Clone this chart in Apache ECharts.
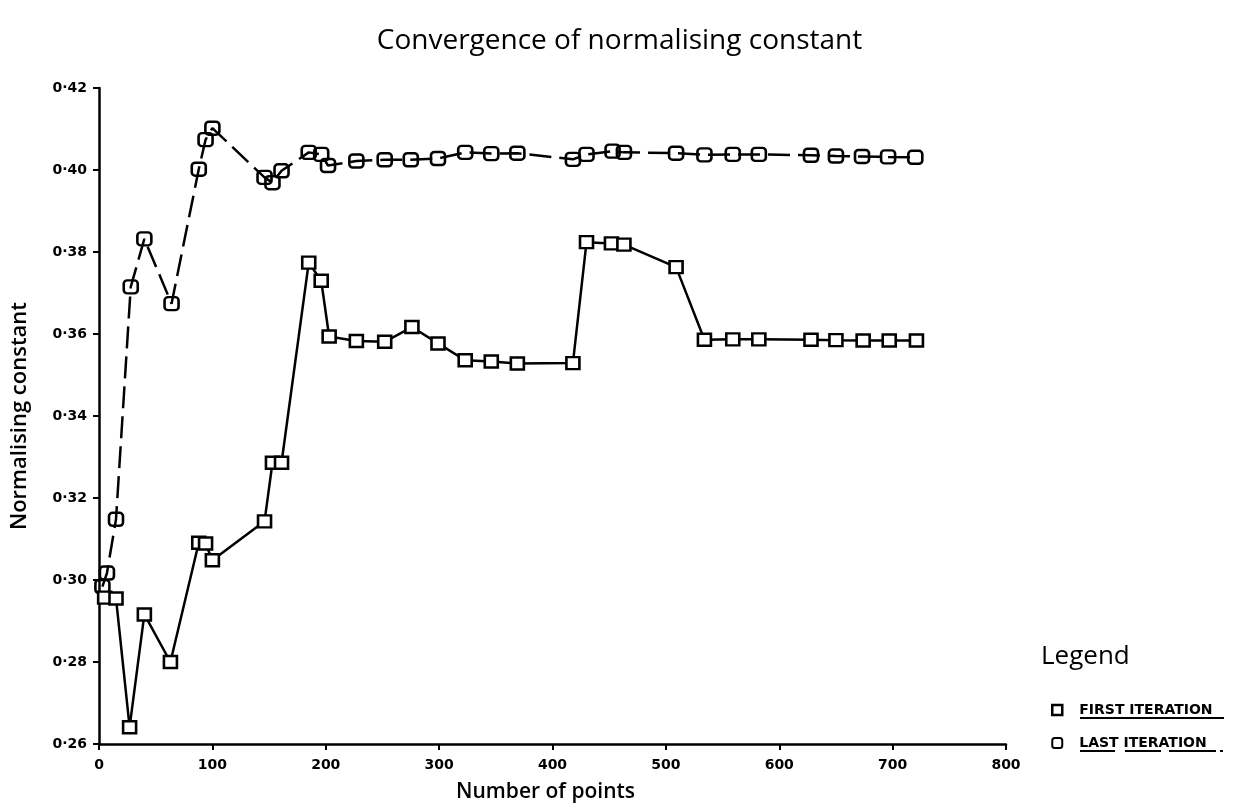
<!DOCTYPE html>
<html>
<head>
<meta charset="utf-8">
<title>Convergence of normalising constant</title>
<script src="https://cdn.jsdelivr.net/npm/echarts@6/dist/echarts.min.js"></script>
<style>
  html, body { margin: 0; padding: 0; background: #fff; }
  #chart { width: 1239px; height: 811px; }
</style>
</head>
<body>
<div id="chart"></div>
<script>
// Number of points used, and the normalising constant estimated at each
const firstX = [5, 15, 27, 40, 63, 88, 94, 100, 146, 153, 161, 185, 196, 203, 227, 252, 276, 299, 323, 346, 369, 418, 430, 452, 463, 509, 534, 559, 582, 628, 650, 674, 697, 721];
const firstY = [0.2957, 0.2955, 0.2641, 0.2916, 0.2800, 0.3091, 0.3089, 0.3048, 0.3143, 0.3286, 0.3286, 0.3774, 0.3730, 0.3594, 0.3583, 0.3581, 0.3617, 0.3577, 0.3536, 0.3533, 0.3528, 0.3529, 0.3824, 0.3821, 0.3818, 0.3763, 0.3586, 0.3587, 0.3587, 0.3586, 0.3585, 0.3584, 0.3584, 0.3584];

const lastX = [3, 7, 15, 28, 40, 64, 88, 94, 100, 146, 153, 161, 185, 196, 202, 227, 252, 275, 299, 323, 346, 369, 418, 430, 453, 463, 509, 534, 559, 582, 628, 650, 673, 696, 720];
const lastY = [0.2984, 0.3017, 0.3148, 0.3715, 0.3832, 0.3674, 0.4002, 0.4074, 0.4102, 0.3982, 0.3969, 0.3998, 0.4043, 0.4038, 0.4011, 0.4022, 0.4025, 0.4025, 0.4028, 0.4043, 0.4040, 0.4041, 0.4026, 0.4038, 0.4046, 0.4043, 0.4041, 0.4037, 0.4038, 0.4038, 0.4036, 0.4034, 0.4033, 0.4032, 0.4031];

const seriesNames = ['FIRST ITERATION', 'LAST ITERATION'];
const xTicks = { min: 0, max: 800, step: 100 };
const yTicks = { min: 0.26, max: 0.42, step: 0.02 };

const pairs = (xs, ys) => xs.map((x, i) => [x, ys[i]]);

const chart = echarts.init(document.getElementById('chart'), null, { renderer: 'canvas' });

const labelFont = 'DejaVu Sans';
const textFont = 'Open Sans';

chart.setOption({
  backgroundColor: '#ffffff',
  animation: false,
  title: {
    text: 'Convergence of normalising constant',
    left: 'center',
    top: 22,
    textStyle: { fontFamily: textFont, fontSize: 28, fontWeight: 500, color: '#000' }
  },
  grid: { left: 99, right: 233, top: 88, bottom: 67, containLabel: false },
  xAxis: {
    type: 'value',
    min: xTicks.min, max: xTicks.max, interval: xTicks.step,
    name: 'Number of points',
    nameLocation: 'middle',
    nameGap: 38,
    nameTextStyle: { fontFamily: textFont, fontSize: 21, fontWeight: 600, color: '#000', padding: [0, 14, 0, 0] },
    axisLine: { lineStyle: { color: '#000', width: 2.5 } },
    axisTick: { inside: false, length: 6, lineStyle: { color: '#000', width: 2 } },
    axisLabel: { margin: 14, fontFamily: labelFont, fontSize: 14, fontWeight: 'bold', color: '#000' },
    splitLine: { show: false }
  },
  yAxis: {
    type: 'value',
    min: yTicks.min, max: yTicks.max, interval: yTicks.step,
    name: 'Normalising constant',
    nameLocation: 'middle',
    nameGap: 68,
    nameTextStyle: { fontFamily: textFont, fontSize: 22, fontWeight: 600, color: '#000' },
    axisLine: { lineStyle: { color: '#000', width: 2.5 } },
    axisTick: { inside: false, length: 6, lineStyle: { color: '#000', width: 2 } },
    axisLabel: {
      margin: 12, fontFamily: labelFont, fontSize: 14, fontWeight: 'bold', color: '#000',
      formatter: v => v.toFixed(2).replace('.', '·')
    },
    splitLine: { show: false }
  },
  legend: {
    orient: 'vertical',
    left: 1046,
    top: 698,
    itemGap: 19,
    itemWidth: 10,
    itemHeight: 10,
    textStyle: { fontFamily: 'DejaVu Sans', fontSize: 14, fontWeight: 'bold', color: '#000', padding: [0, 0, 0, 12] },
    data: [
      { name: seriesNames[0], icon: 'rect', itemStyle: { color: '#fff', borderColor: '#000', borderWidth: 2.5 } },
      { name: seriesNames[1], icon: 'roundRect', itemStyle: { color: '#fff', borderColor: '#000', borderWidth: 2 } }
    ]
  },
  graphic: [
    {
      type: 'text', left: 1041, top: 644,
      style: { text: 'Legend', fontFamily: textFont, fontSize: 26, fontWeight: 500, fill: '#000' }
    },
    // underlines beneath the legend entries
    { type: 'line', shape: { x1: 1080, y1: 718, x2: 1224, y2: 718 }, style: { stroke: '#000', lineWidth: 2 } },
    { type: 'line', shape: { x1: 1080, y1: 751, x2: 1115, y2: 751 }, style: { stroke: '#000', lineWidth: 2 } },
    { type: 'line', shape: { x1: 1125, y1: 751, x2: 1161, y2: 751 }, style: { stroke: '#000', lineWidth: 2 } },
    { type: 'line', shape: { x1: 1169, y1: 751, x2: 1216, y2: 751 }, style: { stroke: '#000', lineWidth: 2 } },
    { type: 'line', shape: { x1: 1220, y1: 751, x2: 1223, y2: 751 }, style: { stroke: '#000', lineWidth: 2 } }
  ],
  series: [
    {
      name: seriesNames[0],
      type: 'line',
      data: pairs(firstX, firstY),
      symbol: 'rect',
      symbolSize: [13, 12],
      showSymbol: true,
      lineStyle: { color: '#000', width: 2.5, type: 'solid' },
      itemStyle: { color: '#fff', borderColor: '#000', borderWidth: 2.5 },
      z: 3
    },
    {
      name: seriesNames[1],
      type: 'line',
      data: pairs(lastX, lastY),
      symbol: 'roundRect',
      symbolSize: [14, 13],
      showSymbol: true,
      lineStyle: { color: '#000', width: 2.5, type: [22, 8] },
      itemStyle: { color: 'rgba(255,255,255,0)', borderColor: '#000', borderWidth: 2.5 },
      z: 2
    }
  ]
});
</script>
</body>
</html>
